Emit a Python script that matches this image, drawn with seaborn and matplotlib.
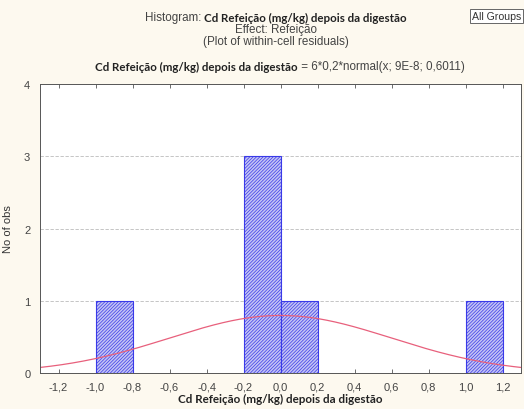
import numpy as np
import pandas as pd
import matplotlib
matplotlib.use("Agg")
import matplotlib.pyplot as plt
import seaborn as sns
from matplotlib.ticker import FuncFormatter

# Data
bin_centers = [-0.9, -0.1, 0.1, 1.1]
counts = [1, 3, 1, 1]
bin_width = 0.2
norm_n = 6
norm_mean = 9e-8
norm_sd = 0.6011
x_ticks = [-1.2, -1.0, -0.8, -0.6, -0.4, -0.2, 0.0, 0.2, 0.4, 0.6, 0.8, 1.0, 1.2]
y_ticks = [0, 1, 2, 3, 4]

sns.set_theme(style="white")
plt.rcParams['font.family'] = ['Liberation Sans', 'DejaVu Sans']
plt.rcParams['hatch.color'] = '#4a4ae0'
plt.rcParams['hatch.linewidth'] = 0.5

bg = '#fdf9ef'
fig = plt.figure(figsize=(5.24, 4.10), dpi=100, facecolor=bg)
W, H = 524, 410
ax = fig.add_axes([40 / W, 1 - 374 / H, (521 - 40) / W, (374 - 85) / H])
ax.set_facecolor('white')

df = pd.DataFrame({"x": bin_centers, "n": counts})
sns.histplot(data=df, x="x", weights="n", binwidth=bin_width, binrange=(-1.0, 1.2),
             ax=ax, color='#c4c4f4', edgecolor='#3a3ae8', linewidth=0.8,
             alpha=1.0, hatch='//////////')
for p in ax.patches:
    if p.get_height() == 0:
        p.set_visible(False)

xs = np.linspace(-1.3, 1.3, 400)
ys = norm_n * bin_width * np.exp(-0.5 * ((xs - norm_mean) / norm_sd) ** 2) / (norm_sd * np.sqrt(2 * np.pi))
sns.lineplot(x=xs, y=ys, ax=ax, color='#e8607c', linewidth=0.9)

ax.set_xlim(-1.3, 1.3)
ax.set_ylim(0, 4)
ax.set_xticks(x_ticks)
ax.set_yticks(y_ticks)
ax.xaxis.set_major_formatter(FuncFormatter(lambda v, p: f"{v:.1f}".replace('.', ',').replace('-0,0', '0,0')))
ax.tick_params(axis='x', direction='in', top=True, bottom=True, length=3, width=0.6,
               labelsize=8, labelcolor='#444444', color='#555555', pad=6)
ax.tick_params(axis='y', direction='in', left=False, labelsize=8, labelcolor='#444444', pad=7)
for s in ax.spines.values():
    s.set_color('#555555')
    s.set_linewidth(0.7)
for yv in [1, 2, 3]:
    ax.axhline(yv, color='#bbbbbb', linestyle=(0, (4, 2)), linewidth=0.6, zorder=0)
ax.set_xlabel('Cd Refeição (mg/kg) depois da digestão', family=['Lato', 'DejaVu Sans'],
              fontweight='bold', fontsize=8.4, color='#222222', labelpad=1)
ax.set_ylabel('No of obs', fontsize=8, color='#333333', labelpad=8)

# Title pieces (mixed fonts)
fig.canvas.draw()
renderer = fig.canvas.get_renderer()

def mixed_line(pieces, cx, cy):
    texts = []
    total = 0
    for s, kw in pieces:
        t = fig.text(0, 0, s, va='center', ha='left', **kw)
        w = t.get_window_extent(renderer).width
        texts.append((t, w))
        total += w
    x = cx - total / 2
    for t, w in texts:
        t.set_position((x / W, 1 - cy / H))
        x += w

normal = dict(fontsize=8.4, color='#444444', family=['Liberation Sans', 'DejaVu Sans'])
bold = dict(fontsize=8.3, color='#222222', family=['Lato', 'DejaVu Sans'], fontweight='bold')

mixed_line([("Histogram: ", normal), ("Cd Refeição (mg/kg) depois da digestão", bold)], 276, 18)
mixed_line([("Effect: Refeição", normal)], 276, 30)
mixed_line([("(Plot of within-cell residuals)", normal)], 276, 42)
mixed_line([("Cd Refeição (mg/kg) depois da digestão", bold), (" = 6*0,2*normal(x; 9E-8; 0,6011)", normal)], 280, 67)

fig.text(472 / W, 1 - 17 / H, 'All Groups', fontsize=7.6, color='#333333', va='center', ha='left',
         bbox=dict(boxstyle='square,pad=0.2', facecolor='white', edgecolor='#666666', linewidth=0.7))

fig.savefig('out.png', dpi=100, facecolor=bg)
